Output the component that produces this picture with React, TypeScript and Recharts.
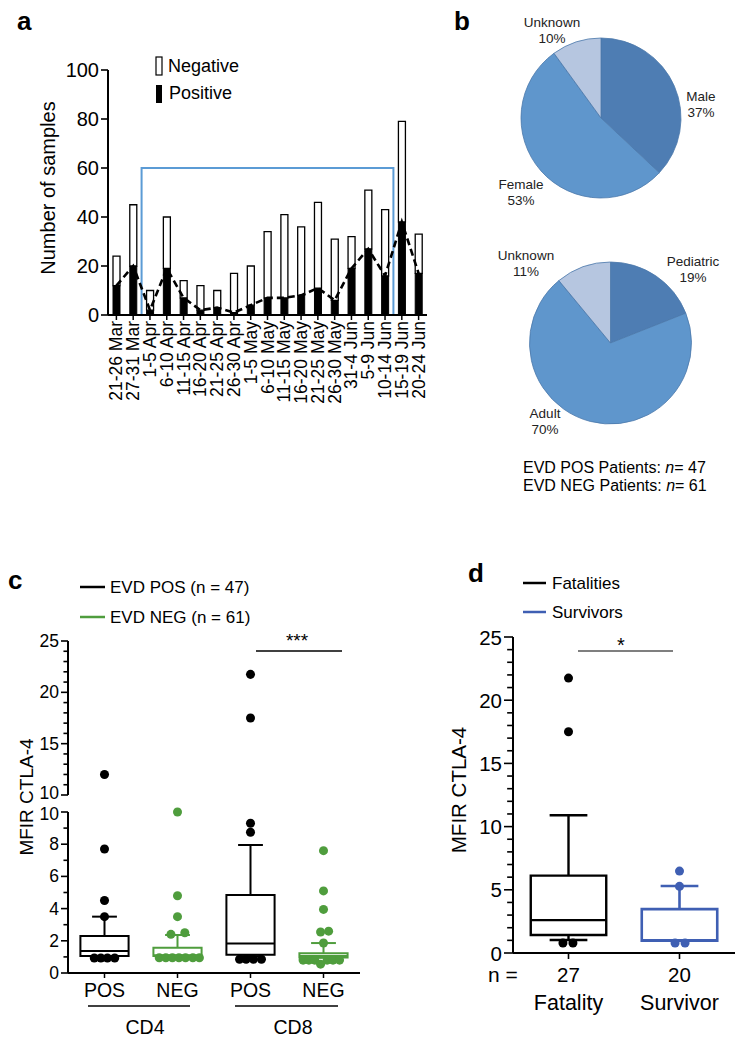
import React from 'react';
import {
  Bar,
  Cell,
  ComposedChart,
  Line,
  Pie,
  PieChart,
  ReferenceArea,
  ReferenceLine,
  Scatter,
  ScatterChart,
  XAxis,
  YAxis,
  ZAxis,
} from 'recharts';

const FONT = '"Liberation Sans", Arial, Helvetica, sans-serif';
const GREEN = '#4f9d3d';
const BLUE = '#3f5fb3';
const FRAME_BLUE = '#5b9bd5';
const PIE_COLORS = ['#4e7db3', '#5f96cc', '#b6c6e0'];

// panel a: samples per 5-day window
const weeks = [
  '21-26 Mar', '27-31 Mar', '1-5 Apr', '6-10 Apr', '11-15 Apr', '16-20 Apr',
  '21-25 Apr', '26-30 Apr', '1-5 May', '6-10 May', '11-15 May', '16-20 May',
  '21-25 May', '26-30 May', '31-4 Jun', '5-9 Jun', '10-14 Jun', '15-19 Jun',
  '20-24 Jun',
];
const positiveSamples = [12, 20, 2, 19, 7, 2, 3, 1, 4, 7, 7, 8, 11, 6, 19, 27, 16, 38, 17];
const negativeSamples = [12, 25, 8, 21, 7, 10, 7, 16, 16, 27, 34, 28, 35, 25, 13, 24, 27, 41, 16];
const countTicks = [0, 20, 40, 60, 80, 100];

// panel b: patient make-up
const sexLabels = ['Male', 'Female', 'Unknown'];
const sexShares = [37, 53, 10];
const ageLabels = ['Pediatric', 'Adult', 'Unknown'];
const ageShares = [19, 70, 11];

// panel c: CTLA-4 on CD4 / CD8
const cellGroups = ['POS', 'NEG', 'POS', 'NEG'];
// low, q1, median, q3, high
const cellBoxes = [
  [1.05, 1.05, 1.37, 2.3, 3.5],
  [1.05, 1.05, 1.1, 1.57, 2.36],
  [1.05, 1.14, 1.84, 4.84, 7.95],
  [0.95, 0.97, 1.05, 1.22, 1.86],
];
// [group, jitter, value]
const posDots = [
  [0, 0, 12], [0, 0, 7.7], [0, 0, 4.5], [0, 0, 3.5],
  [0, -0.14, 0.93], [0, -0.05, 0.93], [0, 0.04, 0.93], [0, 0.14, 0.93],
  [2, 0, 21.75], [2, 0, 17.5], [2, 0, 9.3], [2, 0, 8.74],
  [2, -0.15, 0.85], [2, -0.06, 0.85], [2, 0.04, 0.85], [2, 0.15, 0.85],
];
const negDots = [
  [1, 0, 10], [1, 0, 4.8], [1, 0, 3.5], [1, 0.1, 2.5], [1, -0.09, 2.4],
  [1, -0.25, 0.95], [1, -0.16, 0.95], [1, -0.07, 0.95], [1, 0.02, 0.95],
  [1, 0.11, 0.95], [1, 0.21, 0.95], [1, 0.3, 0.95],
  [3, 0, 7.6], [3, 0, 5.1], [3, 0, 3.95], [3, -0.04, 2.55], [3, 0.07, 2.6], [3, 0, 1.86],
  [3, -0.28, 0.8], [3, -0.2, 0.8], [3, -0.12, 0.8], [3, -0.04, 0.55],
  [3, 0.05, 0.8], [3, 0.13, 0.8], [3, 0.22, 0.8],
];

// panel d: outcome
const outcomeGroups = ['Fatality', 'Survivor'];
const outcomeCounts = [27, 20];
const outcomeBoxes = [
  [1.03, 1.42, 2.6, 6.12, 10.9],
  [0.98, 0.98, 1.0, 3.47, 5.3],
];
const fatalDots = [[0, 0, 21.75], [0, 0, 17.5], [0, -0.05, 0.79], [0, 0.04, 0.79]];
const survivorDots = [[1, 0, 6.48], [1, 0, 5.27], [1, -0.04, 0.79], [1, 0.05, 0.79]];

const weekData = weeks.map((w, i) => ({
  week: w,
  positive: positiveSamples[i],
  negative: negativeSamples[i],
}));
const sexData = sexLabels.map((n, i) => ({ name: n, value: sexShares[i] }));
const ageData = ageLabels.map((n, i) => ({ name: n, value: ageShares[i] }));
const toPoints = (dots: number[][]) =>
  dots.map(([g, dx, v]) => ({ x: g + 0.5 + dx, y: v }));

const range = (a: number, b: number) =>
  Array.from({ length: b - a + 1 }, (_, i) => a + i);

// breakShift nudges the label that sits next to the axis break
const yTick =
  (axisX: number, majors: number[], fontSize: number, majorLen: number, breakAt?: number, breakShift = 0) =>
  (p: any) => {
    const major = majors.includes(p.payload.value);
    const len = major ? majorLen : majorLen * 0.65;
    const shift = p.payload.value === breakAt ? breakShift : 0;
    return (
      <g>
        <line x1={axisX - len} x2={axisX} y1={p.y} y2={p.y} stroke='#000' strokeWidth={1.6} />
        {major && (
          <text
            x={axisX - majorLen - 2}
            y={p.y + shift}
            textAnchor='end'
            dominantBaseline='central'
            fontSize={fontSize}
            fontFamily={FONT}
            fill='#000'
          >
            {p.payload.value}
          </text>
        )}
      </g>
    );
  };

const weekTick = (p: any) => {
  const y0 = 315;
  return (
    <g>
      <line x1={p.x} x2={p.x} y1={y0} y2={y0 + 5} stroke='#000' strokeWidth={1.5} />
      <text
        x={p.x}
        y={y0 + 6}
        transform={`rotate(-90 ${p.x} ${y0 + 6})`}
        textAnchor='end'
        dominantBaseline='central'
        fontSize={17.5}
        fontFamily={FONT}
        fill='#000'
      >
        {p.payload.value}
      </text>
    </g>
  );
};

const cellTick = (p: any) => {
  const y0 = 178;
  return (
    <g>
      <line x1={p.x} x2={p.x} y1={y0} y2={y0 + 5} stroke='#000' strokeWidth={1.5} />
      <text x={p.x} y={y0 + 24} textAnchor='middle' fontSize={19.5} fontFamily={FONT} fill='#000'>
        {cellGroups[Math.floor(p.payload.value)]}
      </text>
    </g>
  );
};

const outcomeTick = (p: any) => {
  const y0 = 353;
  const i = Math.floor(p.payload.value);
  return (
    <g>
      <line x1={p.x} x2={p.x} y1={y0} y2={y0 + 6} stroke='#000' strokeWidth={1.6} />
      <text x={p.x} y={y0 + 29} textAnchor='middle' fontSize={20.5} fontFamily={FONT} fill='#000'>
        {outcomeCounts[i]}
      </text>
      <text x={p.x} y={y0 + 57} textAnchor='middle' fontSize={21.5} fontFamily={FONT} fill='#000'>
        {outcomeGroups[i]}
      </text>
    </g>
  );
};

const pieLabel =
  (names: string[], shares: number[], cx: number, cy: number, offsets: number[][]) =>
  (p: any) => {
    const [dx, dy] = offsets[p.index];
    const x = cx + dx;
    const y = cy + dy;
    return (
      <text textAnchor='middle' fontSize={13.5} fontFamily={FONT} fill='#222'>
        <tspan x={x} y={y - 3}>{names[p.index]}</tspan>
        <tspan x={x} y={y + 13}>{shares[p.index]}%</tspan>
      </text>
    );
  };

function boxMarks(
  key: string,
  b: number[],
  center: number,
  half: number,
  cap: number,
  color: string,
  width: number,
) {
  const [low, q1, med, q3, high] = b;
  const seg = (k: string, x1: number, y1: number, x2: number, y2: number) => (
    <ReferenceLine
      key={`${key}-${k}`}
      segment={[{ x: x1, y: y1 }, { x: x2, y: y2 }]}
      stroke={color}
      strokeWidth={width}
      ifOverflow='visible'
    />
  );
  return [
    seg('wh', center, q3, center, high),
    seg('ch', center - cap, high, center + cap, high),
    low < q1 ? seg('wl', center, low, center, q1) : null,
    seg('cl', center - cap, low, center + cap, low),
    <ReferenceArea
      key={`${key}-box`}
      x1={center - half}
      x2={center + half}
      y1={q1}
      y2={q3}
      fill='none'
      stroke={color}
      strokeWidth={width}
      ifOverflow='visible'
    />,
    seg('md', center - half, med, center + half, med),
  ];
}

const abs = (left: number, top: number): React.CSSProperties => ({
  position: 'absolute',
  left,
  top,
});

const SamplesChart = () => (
  <div style={abs(0, 0)}>
    <ComposedChart
      width={440}
      height={440}
      data={weekData}
      margin={{ top: 70, right: 13, bottom: 15, left: 48 }}
    >
      <XAxis
        dataKey='week'
        height={110}
        interval={0}
        tickLine={false}
        tick={weekTick}
        axisLine={{ stroke: '#000', strokeWidth: 2 }}
      />
      <YAxis
        width={60}
        domain={[0, 100]}
        ticks={countTicks}
        interval={0}
        tickLine={false}
        tick={yTick(108, countTicks, 20, 7)}
        axisLine={{ stroke: '#000', strokeWidth: 2 }}
      />
      <Bar dataKey='positive' stackId='s' fill='#000' stroke='#000' barSize={7} isAnimationActive={false} />
      <Bar
        dataKey='negative'
        stackId='s'
        fill='#fff'
        stroke='#000'
        strokeWidth={1.3}
        barSize={7}
        isAnimationActive={false}
      />
      <Line
        type='linear'
        dataKey='positive'
        stroke='#000'
        strokeWidth={2.6}
        strokeDasharray='7 4'
        dot={false}
        isAnimationActive={false}
      />
      <ReferenceArea
        x1='1-5 Apr'
        x2='10-14 Jun'
        y1={0}
        y2={60}
        fill='none'
        stroke={FRAME_BLUE}
        strokeWidth={2}
        ifOverflow='visible'
      />
    </ComposedChart>
  </div>
);

const PatientPies = () => (
  <div style={abs(420, 0)}>
    <PieChart width={325} height={450} margin={{ top: 0, right: 0, bottom: 0, left: 0 }}>
      <Pie
        data={sexData}
        dataKey='value'
        nameKey='name'
        cx={181}
        cy={118}
        outerRadius={80}
        startAngle={90}
        endAngle={-270}
        stroke='#4b78ab'
        strokeWidth={0.8}
        labelLine={false}
        label={pieLabel(sexLabels, sexShares, 181, 118, [[100, -14], [-80, 74], [-49, -88]])}
        isAnimationActive={false}
      >
        {sexData.map((d, i) => (
          <Cell key={d.name} fill={PIE_COLORS[i]} />
        ))}
      </Pie>
      <Pie
        data={ageData}
        dataKey='value'
        nameKey='name'
        cx={190.5}
        cy={343}
        outerRadius={81}
        startAngle={90}
        endAngle={-270}
        stroke='#4b78ab'
        strokeWidth={0.8}
        labelLine={false}
        label={pieLabel(ageLabels, ageShares, 190.5, 343, [[82.5, -74], [-65.5, 78], [-84.5, -80]])}
        isAnimationActive={false}
      >
        {ageData.map((d, i) => (
          <Cell key={d.name + i} fill={PIE_COLORS[i]} />
        ))}
      </Pie>
    </PieChart>
  </div>
);

const posPoints = toPoints(posDots);
const negPoints = toPoints(negDots);

const CellChart = () => (
  <>
    <div style={abs(0, 600)}>
      <ScatterChart width={380} height={215} margin={{ top: 41, right: 20, bottom: 20, left: 28 }}>
        <XAxis type='number' dataKey='x' domain={[0, 4]} hide />
        <YAxis
          type='number'
          dataKey='y'
          width={40}
          domain={[10, 25]}
          ticks={range(10, 25)}
          interval={0}
          tickLine={false}
          tick={yTick(68, [10, 15, 20, 25], 17.5, 7, 10, -2)}
          axisLine={{ stroke: '#000', strokeWidth: 2 }}
        />
        <ZAxis range={[50, 50]} />
        <Scatter data={posPoints.filter((p) => p.y > 10)} fill='#000' isAnimationActive={false} />
        <Scatter data={negPoints.filter((p) => p.y > 10)} fill={GREEN} isAnimationActive={false} />
      </ScatterChart>
    </div>
    <div style={abs(0, 795)}>
      <ScatterChart width={380} height={250} margin={{ top: 17, right: 20, bottom: 22, left: 28 }}>
        <XAxis
          type='number'
          dataKey='x'
          domain={[0, 4]}
          ticks={[0.5, 1.5, 2.5, 3.5]}
          interval={0}
          height={50}
          tickLine={false}
          tick={cellTick}
          axisLine={{ stroke: '#000', strokeWidth: 1.8 }}
        />
        <YAxis
          type='number'
          dataKey='y'
          width={40}
          domain={[0, 10]}
          ticks={range(0, 10)}
          interval={0}
          tickLine={false}
          tick={yTick(68, [0, 2, 4, 6, 8, 10], 17.5, 7, 10, 2)}
          axisLine={{ stroke: '#000', strokeWidth: 2 }}
        />
        <ZAxis range={[50, 50]} />
        {cellBoxes.map((b, i) =>
          boxMarks(`c${i}`, b, i + 0.5, 0.33, 0.17, i % 2 ? GREEN : '#000', 2),
        )}
        <Scatter data={posPoints.filter((p) => p.y <= 10)} fill='#000' isAnimationActive={false} />
        <Scatter data={negPoints.filter((p) => p.y <= 10)} fill={GREEN} isAnimationActive={false} />
      </ScatterChart>
    </div>
  </>
);

const OutcomeChart = () => (
  <div style={abs(400, 600)}>
    <ScatterChart width={345} height={445} margin={{ top: 37, right: 10, bottom: 32, left: 63 }}>
      <XAxis
        type='number'
        dataKey='x'
        domain={[0, 2]}
        ticks={[0.5, 1.5]}
        interval={0}
        height={60}
        tickLine={false}
        tick={outcomeTick}
        axisLine={{ stroke: '#000', strokeWidth: 2 }}
      />
      <YAxis
        type='number'
        dataKey='y'
        width={50}
        domain={[0, 25]}
        ticks={range(0, 25)}
        interval={0}
        tickLine={false}
        tick={yTick(113, [0, 5, 10, 15, 20, 25], 20.5, 9)}
        axisLine={{ stroke: '#000', strokeWidth: 2 }}
      />
      <ZAxis range={[60, 60]} />
      {boxMarks('fat', outcomeBoxes[0], 0.5, 0.34, 0.17, '#000', 2.4)}
      {boxMarks('sur', outcomeBoxes[1], 1.5, 0.34, 0.17, BLUE, 2.6)}
      <Scatter data={toPoints(fatalDots)} fill='#000' isAnimationActive={false} />
      <Scatter data={toPoints(survivorDots)} fill={BLUE} isAnimationActive={false} />
    </ScatterChart>
  </div>
);

const Annotations = () => (
  <svg
    width={745}
    height={1045}
    style={{ position: 'absolute', left: 0, top: 0, pointerEvents: 'none' }}
    fontFamily={FONT}
  >
    {/* panel letters */}
    <g fontWeight='bold' fontSize={26} fill='#000'>
      <text x={17} y={30}>a</text>
      <text x={454} y={30}>b</text>
      <text x={8} y={589}>c</text>
      <text x={468} y={582}>d</text>
    </g>

    {/* a: legend and axis title */}
    <rect x={156} y={57} width={6} height={18} fill='#fff' stroke='#000' strokeWidth={1.2} />
    <text x={168} y={72} fontSize={18}>Negative</text>
    <rect x={156} y={85} width={6} height={18} fill='#000' />
    <text x={169} y={99} fontSize={18}>Positive</text>
    <text transform='translate(54.5 188) rotate(-90)' textAnchor='middle' fontSize={20}>
      Number of samples
    </text>

    {/* b: cohort sizes */}
    <text x={523} y={473} fontSize={16}>
      EVD POS Patients: <tspan fontStyle='italic'>n</tspan>= 47
    </text>
    <text x={523} y={491} fontSize={16}>
      EVD NEG Patients: <tspan fontStyle='italic'>n</tspan>= 61
    </text>

    {/* c: legend, significance, groups, axis title */}
    <line x1={80} x2={105} y1={587} y2={587} stroke='#000' strokeWidth={2.5} />
    <text x={110} y={593} fontSize={17}>EVD POS (n = 47)</text>
    <line x1={80} x2={105} y1={617} y2={617} stroke={GREEN} strokeWidth={2.5} />
    <text x={110} y={623} fontSize={17}>EVD NEG (n = 61)</text>
    <text x={297} y={647} textAnchor='middle' fontSize={19}>***</text>
    <line x1={256} x2={342} y1={651} y2={651} stroke='#000' strokeWidth={1.3} />
    <line x1={88} x2={190} y1={1006} y2={1006} stroke='#000' strokeWidth={1.6} />
    <line x1={235} x2={338} y1={1006} y2={1006} stroke='#000' strokeWidth={1.6} />
    <text x={145} y={1034} textAnchor='middle' fontSize={19.5}>CD4</text>
    <text x={293} y={1034} textAnchor='middle' fontSize={19.5}>CD8</text>
    <text transform='translate(33 797) rotate(-90)' textAnchor='middle' fontSize={19}>
      MFIR CTLA-4
    </text>

    {/* d: legend, significance, n label, axis title */}
    <line x1={523} x2={546} y1={583} y2={583} stroke='#000' strokeWidth={2.5} />
    <text x={552} y={589} fontSize={17}>Fatalities</text>
    <line x1={523} x2={546} y1={612} y2={612} stroke={BLUE} strokeWidth={2.5} />
    <text x={552} y={618} fontSize={17}>Survivors</text>
    <text x={621} y={652} textAnchor='middle' fontSize={20}>*</text>
    <line x1={578} x2={673} y1={651} y2={651} stroke='#555' strokeWidth={1.3} />
    <text x={488} y={982} fontSize={21}>n =</text>
    <text transform='translate(465.5 790) rotate(-90)' textAnchor='middle' fontSize={20.5}>
      MFIR CTLA-4
    </text>
  </svg>
);

export default function App() {
  return (
    <div
      style={{
        position: 'absolute',
        left: 0,
        top: 0,
        width: 745,
        height: 1045,
        background: '#fff',
        fontFamily: FONT,
      }}
    >
      <SamplesChart />
      <PatientPies />
      <CellChart />
      <OutcomeChart />
      <Annotations />
    </div>
  );
}
